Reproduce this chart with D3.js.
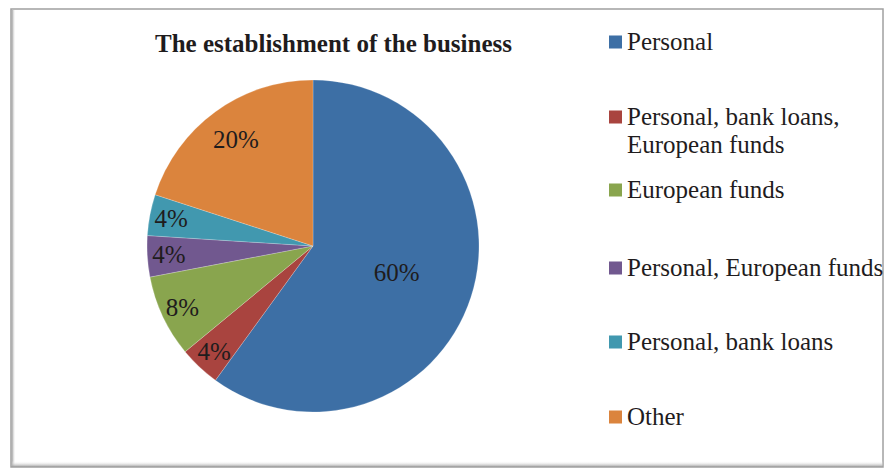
<!DOCTYPE html>
<html>
<head>
<meta charset="utf-8">
<script src="https://cdn.jsdelivr.net/npm/d3@7"></script>
<style>
  html, body { margin: 0; padding: 0; background: #fff; }
  svg { display: block; }
</style>
</head>
<body>
<svg id="chart" width="885" height="470"></svg>
<script>
// Sources used to establish the business (share of respondents, %)
const categories = [
  "Personal",
  "Personal, bank loans, European funds",
  "European funds",
  "Personal, European funds",
  "Personal, bank loans",
  "Other"
];
const legendLines = [
  ["Personal"],
  ["Personal, bank loans,", "European funds"],
  ["European funds"],
  ["Personal, European funds"],
  ["Personal, bank loans"],
  ["Other"]
];
const shares = [60, 4, 8, 4, 4, 20];
const colors = ["#3D6FA5", "#A9443F", "#89A54E", "#71588F", "#4198AF", "#DB843D"];
const title = "The establishment of the business";

const FONT = "'Liberation Serif', 'Times New Roman', Times, 'DejaVu Serif', serif";
const INK = "#1f1c1d";

const svg = d3.select("#chart");

// Chart frame with a soft shadow on the left and bottom edges
const defs = svg.append("defs");
const shL = defs.append("linearGradient").attr("id", "shL").attr("x1", 0).attr("x2", 1);
shL.append("stop").attr("offset", 0).attr("stop-color", "#9a9a9a");
shL.append("stop").attr("offset", 1).attr("stop-color", "#ffffff").attr("stop-opacity", 0);
const shB = defs.append("linearGradient").attr("id", "shB").attr("x1", 0).attr("x2", 0).attr("y1", 1).attr("y2", 0);
shB.append("stop").attr("offset", 0).attr("stop-color", "#9a9a9a");
shB.append("stop").attr("offset", 1).attr("stop-color", "#ffffff").attr("stop-opacity", 0);

const frame = { x: 11, y: 9, w: 872, h: 458 };
svg.append("rect")
  .attr("x", frame.x).attr("y", frame.y).attr("width", frame.w).attr("height", frame.h)
  .attr("fill", "#fff").attr("stroke", "#a0a0a0").attr("stroke-width", 1.5);
svg.append("rect")
  .attr("x", frame.x + 0.75).attr("y", frame.y + 1).attr("width", 4).attr("height", frame.h - 1)
  .attr("fill", "url(#shL)");
svg.append("rect")
  .attr("x", frame.x + 1).attr("y", frame.y + frame.h - 6).attr("width", frame.w - 1).attr("height", 6)
  .attr("fill", "url(#shB)");

// Title
svg.append("text")
  .attr("x", 333.5).attr("y", 52)
  .attr("text-anchor", "middle")
  .attr("font-family", FONT).attr("fill", INK)
  .attr("font-size", 25).attr("font-weight", "bold")
  .text(title);

// Pie
const cx = 313, cy = 246, R = 166;
const data = categories.map((c, i) => ({ name: c, value: shares[i], color: colors[i] }));
const pie = d3.pie().value(d => d.value).sort(null);
const arcs = pie(data);
const arc = d3.arc().innerRadius(0).outerRadius(R);

const g = svg.append("g").attr("transform", `translate(${cx},${cy})`);
g.selectAll("path.slice")
  .data(arcs)
  .join("path")
  .attr("class", "slice")
  .attr("d", arc)
  .attr("fill", d => d.data.color)
  .attr("stroke", "#ffffff")
  .attr("stroke-opacity", 0.35)
  .attr("stroke-width", 0.6);

// Data labels: large slices labelled nearer the centre, thin slices near the rim
const total = d3.sum(shares);
function labelRadius(v) {
  const f = v / total;
  if (f >= 0.5) return R * 0.53;
  if (f >= 0.15) return R * 0.79;
  return R * 0.87;
}
g.selectAll("text.lbl")
  .data(arcs)
  .join("text")
  .attr("class", "lbl")
  .attr("transform", d => {
    const r = labelRadius(d.data.value);
    const c = d3.arc().innerRadius(r).outerRadius(r).centroid(d);
    return `translate(${c[0]},${c[1]})`;
  })
  .attr("text-anchor", "middle")
  .attr("dy", "0.33em")
  .attr("font-family", FONT).attr("fill", INK)
  .attr("font-size", 25)
  .text(d => d.data.value + "%");

// Legend
const legendY = [42, 117, 190, 268, 342, 417];
const lg = svg.append("g");
legendLines.forEach((lines, i) => {
  const y = legendY[i];
  lg.append("rect")
    .attr("x", 609).attr("y", y - 6.5).attr("width", 13).attr("height", 13)
    .attr("fill", colors[i]);
  const t = lg.append("text")
    .attr("x", 627).attr("y", y)
    .attr("font-family", FONT).attr("fill", INK)
    .attr("font-size", 25);
  lines.forEach((ln, j) => {
    t.append("tspan").attr("x", 627).attr("dy", j === 0 ? "0.33em" : 28).text(ln);
  });
});
</script>
</body>
</html>
